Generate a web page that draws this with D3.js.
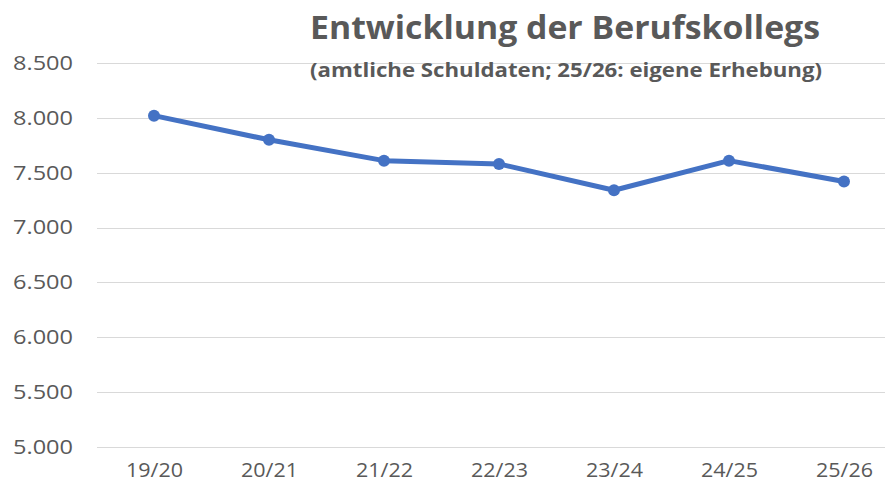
<!DOCTYPE html>
<html>
<head>
<meta charset="utf-8">
<script src="https://cdn.jsdelivr.net/npm/d3@7"></script>
<style>
  html, body { margin: 0; padding: 0; background: #fff; }
  svg { display: block; }
</style>
</head>
<body>
<svg id="chart" width="885" height="489"></svg>
<script>
const categories = ["19/20", "20/21", "21/22", "22/23", "23/24", "24/25", "25/26"];
const values = [8020, 7800, 7610, 7580, 7340, 7610, 7420];
const yTicks = [5000, 5500, 6000, 6500, 7000, 7500, 8000, 8500];
const titleText = "Entwicklung der Berufskollegs";
const subtitleText = "(amtliche Schuldaten; 25/26: eigene Erhebung)";

const W = 885, H = 489;
const svg = d3.select("#chart");
const font = "'Open Sans', 'Noto Sans', sans-serif";
const textColor = "#595959";

const x = d3.scalePoint().domain(categories).range([96.5, 901.5]).padding(0.5);
const y = d3.scaleLinear().domain([5000, 8500]).range([447, 63]);

const de = d3.formatLocale({decimal: ",", thousands: ".", grouping: [3], currency: ["", " €"]});
const fmt = de.format(",.0f");

// gridlines
svg.append("g")
  .selectAll("line")
  .data(yTicks)
  .join("line")
  .attr("x1", 97).attr("x2", W)
  .attr("y1", d => Math.round(y(d)) + 0.5)
  .attr("y2", d => Math.round(y(d)) + 0.5)
  .attr("stroke", "#d9d9d9")
  .attr("stroke-width", 1);

// y axis labels
const yAxis = d3.axisLeft(y).tickValues(yTicks).tickFormat(fmt).tickSize(0).tickPadding(0);
const gy = svg.append("g").attr("transform", "translate(73,0)").call(yAxis);
gy.select(".domain").remove();
gy.selectAll("text")
  .attr("fill", textColor)
  .attr("textLength", 60)
  .attr("lengthAdjust", "spacingAndGlyphs")
  .style("font-family", font)
  .style("font-size", "20px");

// x axis labels
const xAxis = d3.axisBottom(x).tickSize(0).tickPadding(0);
const gx = svg.append("g").attr("transform", "translate(0,463)").call(xAxis);
gx.select(".domain").remove();
gx.selectAll("text")
  .attr("fill", textColor)
  .attr("textLength", 57)
  .attr("lengthAdjust", "spacingAndGlyphs")
  .style("font-family", font)
  .style("font-size", "20px");

// title
svg.append("text")
  .attr("x", 310).attr("y", 39)
  .attr("fill", textColor)
  .attr("textLength", 510)
  .attr("lengthAdjust", "spacingAndGlyphs")
  .style("font-family", font)
  .style("font-weight", "bold")
  .style("font-size", "32px")
  .text(titleText);

svg.append("text")
  .attr("x", 310).attr("y", 77)
  .attr("fill", textColor)
  .attr("textLength", 512)
  .attr("lengthAdjust", "spacingAndGlyphs")
  .style("font-family", font)
  .style("font-weight", "bold")
  .style("font-size", "19px")
  .text(subtitleText);

// line
const data = categories.map((c, i) => ({c, v: values[i]}));
svg.append("path")
  .datum(data)
  .attr("fill", "none")
  .attr("stroke", "#4472c4")
  .attr("stroke-width", 5)
  .attr("stroke-linejoin", "round")
  .attr("d", d3.line().x(d => x(d.c)).y(d => y(d.v)));

svg.append("g")
  .selectAll("circle")
  .data(data)
  .join("circle")
  .attr("cx", d => x(d.c))
  .attr("cy", d => y(d.v))
  .attr("r", 6)
  .attr("fill", "#4472c4");
</script>
</body>
</html>
